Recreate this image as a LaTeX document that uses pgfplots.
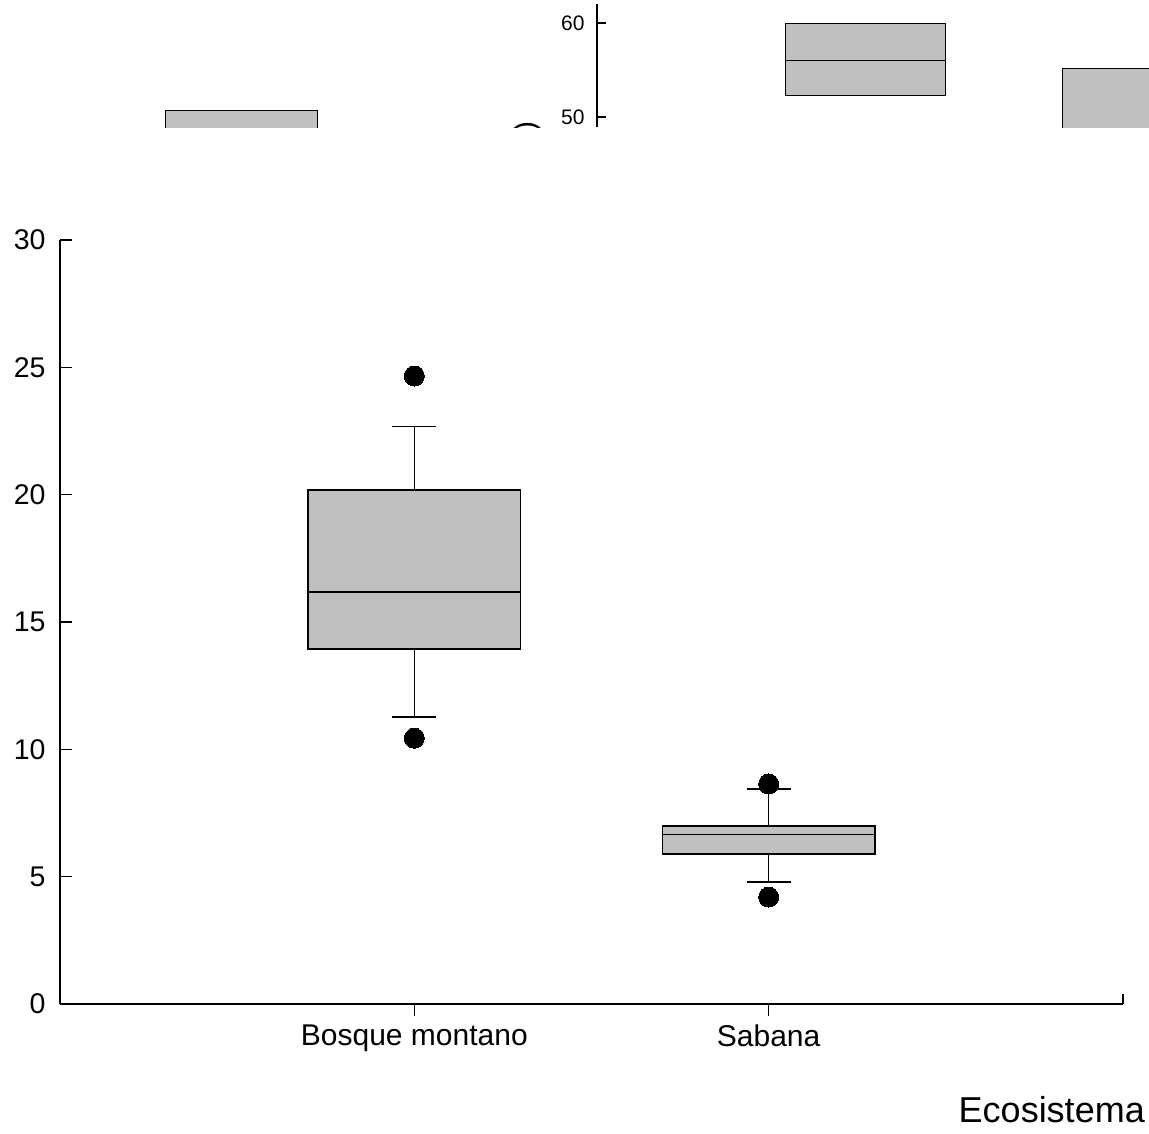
\documentclass[border=0pt]{standalone}
\usepackage{pgfplots}
\pgfplotsset{compat=1.18}
\usepgfplotslibrary{statistics}
\usepackage{fontspec}
\setmainfont{Liberation Sans}
\definecolor{boxgray}{RGB}{192,192,192}
\begin{document}
\begin{tikzpicture}
\useasboundingbox (0pt,0pt) rectangle (1149pt,-1133pt);
% cropped upper panel
\begin{scope}
\clip (0pt,0pt) rectangle (1149pt,-127pt);
\begin{axis}[at={(0pt,-127pt)}, anchor=south west, scale only axis,
  width=1149pt, height=123pt,
  xmin=-5.97, xmax=5.52, ymin=48.936, ymax=62.02,
  axis x line=none, axis y line=middle,
  axis line style={-, line width=1.1pt},
  ytick={50,60}, xtick=\empty,
  tick align=inside, major tick length=9pt,
  tick style={black, line width=1.1pt},
  /pgf/number format/assume math mode=true,
  yticklabel style={font=\fontsize{21}{25}\selectfont, xshift=-9pt},
  boxplot/draw direction=y,
  clip=true]
\addplot+[boxplot prepared={draw position=2.68, lower whisker=52.34, lower quartile=52.34, median=56.06, upper quartile=60, upper whisker=60, box extend=1.6, whisker extend=0}, fill=boxgray, draw=black, line width=0.9pt, solid, mark=none] coordinates {};
\addplot+[boxplot prepared={draw position=5.45, lower whisker=45, lower quartile=46, median=47, upper quartile=55.21, upper whisker=55.21, box extend=1.6, whisker extend=0}, fill=boxgray, draw=black, line width=0.9pt, solid, mark=none] coordinates {};
\addplot+[boxplot prepared={draw position=-3.56, lower whisker=44, lower quartile=45, median=47, upper quartile=50.74, upper whisker=50.74, box extend=1.52, whisker extend=0}, fill=boxgray, draw=black, line width=0.9pt, solid, mark=none] coordinates {};
\end{axis}
\node[rotate=90, anchor=east, font=\fontsize{30}{34}\selectfont, inner sep=0pt] at (528pt,-121pt) {)};
\end{scope}
% main panel
\begin{axis}[at={(60pt,-1004pt)}, anchor=south west, scale only axis,
  width=1063pt, height=764pt,
  xmin=0, xmax=3, ymin=0, ymax=30,
  axis x line*=bottom, axis y line*=left,
  axis line style={-, line width=1.3pt},
  xtick={1,2}, xticklabels={Bosque montano, Sabana},
  ytick={0,5,...,30},
  major tick length=11.5pt,
  tick style={black, line width=1.3pt},
  xtick align=outside, ytick align=inside,
  extra x ticks={3}, extra x tick labels={},
  extra x tick style={xtick align=inside, major tick length=10pt},
  /pgf/number format/assume math mode=true,
  yticklabel style={font=\fontsize{28.5}{33}\selectfont, xshift=-11pt},
  xticklabel style={font=\fontsize{30}{36}\selectfont, yshift=-5.5pt},
  xlabel={Ecosistema},
  xlabel style={at={(axis description cs:1.0207,-0.1545)}, anchor=base east, font=\fontsize{36}{42}\selectfont, inner sep=0pt},
  boxplot/draw direction=y,
  clip=false]
\addplot+[boxplot prepared={draw position=1, lower whisker=11.27, lower quartile=13.94, median=16.18, upper quartile=20.18, upper whisker=22.69, box extend=0.6, whisker extend=0.124}, fill=boxgray, draw=black, line width=1.3pt, solid, mark=*, mark size=10pt, mark options={fill=black, draw=black, line width=0pt}] table[row sep=\\, y index=0] {24.66\\ 10.44\\};
\addplot+[boxplot prepared={draw position=2, lower whisker=4.79, lower quartile=5.89, median=6.67, upper quartile=6.99, upper whisker=8.44, box extend=0.6, whisker extend=0.124}, fill=boxgray, draw=black, line width=1.3pt, solid, mark=*, mark size=10pt, mark options={fill=black, draw=black, line width=0pt}] table[row sep=\\, y index=0] {8.64\\ 4.20\\};
\end{axis}
\end{tikzpicture}
\end{document}
